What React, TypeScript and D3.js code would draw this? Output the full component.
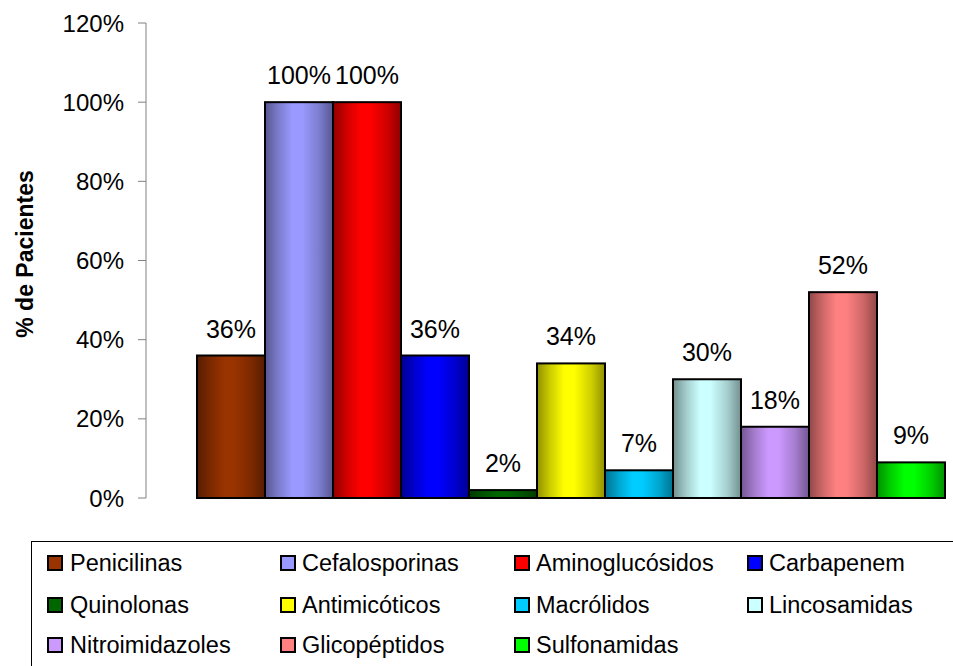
import React from "react";
import * as d3 from "d3";

const categories = [
  "Penicilinas", "Cefalosporinas", "Aminoglucósidos", "Carbapenem",
  "Quinolonas", "Antimicóticos", "Macrólidos", "Lincosamidas",
  "Nitroimidazoles", "Glicopéptidos", "Sulfonamidas",
];
const values = [36, 100, 100, 36, 2, 34, 7, 30, 18, 52, 9];
const colors = [
  "#993300", "#9999FF", "#FF0000", "#0000FF",
  "#006600", "#FFFF00", "#00CCFF", "#CCFFFF",
  "#CC99FF", "#FF8080", "#00FF00",
];
const yTicks = [0, 20, 40, 60, 80, 100, 120];

const W = 953;
const H = 666;
const font = "'Liberation Sans', Arial, sans-serif";

export default function App() {
  const y = d3.scaleLinear().domain([0, 120]).range([498, 23]);
  const x = d3.scaleBand<string>().domain(categories).range([197, 945]).paddingInner(0).paddingOuter(0);
  const axisX = 146;

  const legendMarkerX = [48, 281, 515, 748];
  const legendTextX = [70, 302, 536, 769];
  const legendRows = [563, 605, 645];

  return (
    <svg width={W} height={H} style={{ position: "absolute", left: 0, top: 0, background: "#fff" }}>
      <defs>
        {colors.map((c, i) => {
          const dark = d3.color(c)!.darker(1.6).formatHex();
          const mid = d3.color(c)!.darker(0.6).formatHex();
          return (
            <linearGradient key={i} id={`g${i}`} x1="0" x2="1" y1="0" y2="0">
              <stop offset="0%" stopColor={dark} />
              <stop offset="20%" stopColor={mid} />
              <stop offset="40%" stopColor={c} />
              <stop offset="55%" stopColor={c} />
              <stop offset="80%" stopColor={mid} />
              <stop offset="100%" stopColor={dark} />
            </linearGradient>
          );
        })}
      </defs>

      {/* y axis */}
      <line x1={axisX} x2={axisX} y1={y(120)} y2={y(0)} stroke="#808080" strokeWidth={1} />
      {yTicks.map((t) => (
        <g key={t}>
          <line x1={axisX - 8} x2={axisX} y1={y(t)} y2={y(t)} stroke="#808080" strokeWidth={1} />
          <text x={124} y={y(t)} dy="0.36em" textAnchor="end" fontFamily={font} fontSize={24} fill="#000">
            {t}%
          </text>
        </g>
      ))}
      <text
        transform={`translate(33,254) rotate(-90)`}
        textAnchor="middle"
        fontFamily={font}
        fontSize={23}
        fontWeight="bold"
        fill="#000"
      >
        % de Pacientes
      </text>

      {/* bars */}
      {categories.map((c, i) => {
        const x0 = x(c)!;
        const bw = x.bandwidth();
        const top = y(values[i]);
        return (
          <g key={c}>
            <rect
              x={x0}
              y={top}
              width={bw}
              height={y(0) - top}
              fill={`url(#g${i})`}
              stroke="#000"
              strokeWidth={2}
            />
            <text
              x={x0 + bw / 2}
              y={top - 18}
              textAnchor="middle"
              fontFamily={font}
              fontSize={25}
              fill="#000"
            >
              {values[i]}%
            </text>
          </g>
        );
      })}

      {/* legend */}
      <rect x={31.5} y={541.5} width={940} height={140} fill="none" stroke="#000" strokeWidth={1} />
      {categories.map((c, i) => {
        const col = i % 4;
        const row = Math.floor(i / 4);
        const ly = legendRows[row];
        return (
          <g key={c}>
            <rect x={legendMarkerX[col]} y={ly - 7} width={14} height={14} fill={colors[i]} stroke="#000" strokeWidth={2} />
            <text x={legendTextX[col]} y={ly} dy="0.36em" fontFamily={font} fontSize={23.5} fill="#000">
              {c}
            </text>
          </g>
        );
      })}
    </svg>
  );
}
